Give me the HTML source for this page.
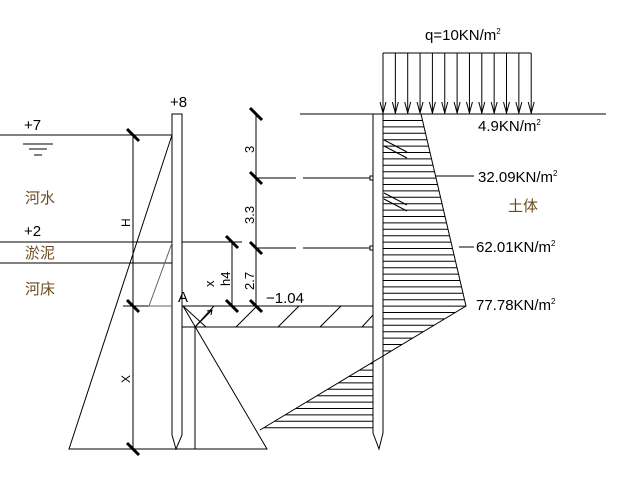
<!DOCTYPE html>
<html><head><meta charset="utf-8"><style>
body{margin:0;background:#fff}
svg{display:block}
text{font-family:"Liberation Sans","Noto Sans CJK SC",sans-serif;fill:#000}
.cj{fill:#6b4a20}
</style></head><body>
<svg id="s" width="623" height="482" viewBox="0 0 623 482" stroke="#000" fill="none" stroke-width="1">
<path d="M172,435 V114 H182 V435 L176,449 L172,435"/>
<path d="M373,433 V114 H383 V433 L379,449 L373,433"/>
<line x1="0" y1="135" x2="172" y2="135"/>
<line x1="0" y1="242" x2="172" y2="242"/>
<line x1="182" y1="242" x2="242" y2="242"/>
<line x1="0" y1="263" x2="172" y2="263"/>
<line x1="123" y1="306" x2="172" y2="306"/>
<line x1="182" y1="306" x2="373" y2="306"/>
<line x1="182" y1="327" x2="373" y2="327"/>
<line x1="300" y1="114" x2="373" y2="114"/>
<line x1="383" y1="114" x2="606" y2="114"/>
<line x1="23" y1="144" x2="53" y2="144"/>
<line x1="29" y1="149" x2="47" y2="149"/>
<line x1="34" y1="155" x2="42" y2="155"/>
<line x1="133" y1="135" x2="133" y2="449"/>
<line x1="256" y1="114" x2="256" y2="306"/>
<line x1="232" y1="242" x2="232" y2="306"/>
<g stroke-width="3">
<line x1="127" y1="129" x2="139" y2="141"/>
<line x1="127" y1="300" x2="139" y2="312"/>
<line x1="127" y1="443" x2="139" y2="455"/>
<line x1="250" y1="108" x2="262" y2="120"/>
<line x1="250" y1="172" x2="262" y2="184"/>
<line x1="250" y1="242" x2="262" y2="254"/>
<line x1="250" y1="300" x2="262" y2="312"/>
<line x1="226" y1="236" x2="238" y2="248"/>
<line x1="226" y1="300" x2="238" y2="312"/>
</g>
<path d="M256,178 H296 M303,178 H370 M256,248 H296 M303,248 H370"/>
<rect x="370" y="176" width="3" height="4"/>
<rect x="370" y="246" width="3" height="4"/>
<path d="M172,135 L69,449 H267 L183,306"/>
<line x1="195" y1="327" x2="195" y2="449"/>
<line x1="183" y1="306" x2="206" y2="327"/>
<path d="M172,243 L149,306 H172" stroke="#666"/>
<path d="M195,327 L212,310 M207,311 L212,310 L211,315"/>
<path d="M195,327 L214,306 M236,327 L257,306 M278,327 L299,306 M320,327 L341,306 M362,327 L373,315"/>
<g id="load"></g>
<path d="M383,114 H421 L466,306 L260,430"/>
<g id="h"></g>
<path d="M384,140 L407,152 M384,146 L407,158 M384,193 L407,205 M384,199 L407,211"/>
<line x1="436" y1="176" x2="474" y2="176"/>
<line x1="459" y1="247" x2="474" y2="247"/>
<g stroke="none">
<text x="170" y="107" font-size="15">+8</text>
<text x="24" y="130" font-size="15">+7</text>
<text x="24" y="236" font-size="15">+2</text>
<text x="25" y="203" font-size="15" class="cj">河水</text>
<text x="25" y="258" font-size="15" class="cj">淤泥</text>
<text x="25" y="294" font-size="15" class="cj">河床</text>
<text x="178" y="302" font-size="15">A</text>
<text x="214" y="287" font-size="13" transform="rotate(-90 214 287)">x</text>
<text x="230" y="286" font-size="13" transform="rotate(-90 230 286)">h4</text>
<text x="130" y="227" font-size="12" transform="rotate(-90 130 227)">H</text>
<text x="130" y="383" font-size="12" transform="rotate(-90 130 383)">X</text>
<text x="254" y="153" font-size="13" transform="rotate(-90 254 153)">3</text>
<text x="254" y="224" font-size="13" transform="rotate(-90 254 224)">3.3</text>
<text x="254" y="290" font-size="13" transform="rotate(-90 254 290)">2.7</text>
<text x="266" y="303" font-size="15">−1.04</text>
<text x="425" y="40" font-size="15">q=10KN/m<tspan font-size="8" dy="-6">2</tspan></text>
<text x="478" y="131" font-size="15">4.9KN/m<tspan font-size="8" dy="-6">2</tspan></text>
<text x="478" y="182" font-size="15">32.09KN/m<tspan font-size="8" dy="-6">2</tspan></text>
<text x="508" y="211" font-size="15" class="cj">土体</text>
<text x="476" y="252" font-size="15">62.01KN/m<tspan font-size="8" dy="-6">2</tspan></text>
<text x="476" y="310" font-size="15">77.78KN/m<tspan font-size="8" dy="-6">2</tspan></text>
</g>
</svg>
<script>
var ns="http://www.w3.org/2000/svg";
function L(g,x1,y1,x2,y2){var l=document.createElementNS(ns,"line");l.setAttribute("x1",x1);l.setAttribute("y1",y1);l.setAttribute("x2",x2);l.setAttribute("y2",y2);g.appendChild(l);}
var ld=document.getElementById("load");
for(var i=0;i<13;i++){var x=383+i*12.35;L(ld,x,53,x,114);L(ld,x-3,102,x,113);L(ld,x+3,102,x,113);}
L(ld,383,53,531,53);
var h=document.getElementById("h");
for(var y=120.5;y<=432;y+=6.4){
 if(y<=306){var xe=421+(y-114)*45/192;L(h,383,y,xe,y);}
 else{var xd=466-(y-306)*206/124;if(xd>383)L(h,383,y,xd,y);if(xd<373&&y<=431)L(h,xd,y,373,y);}
}
</script>
</body></html>
